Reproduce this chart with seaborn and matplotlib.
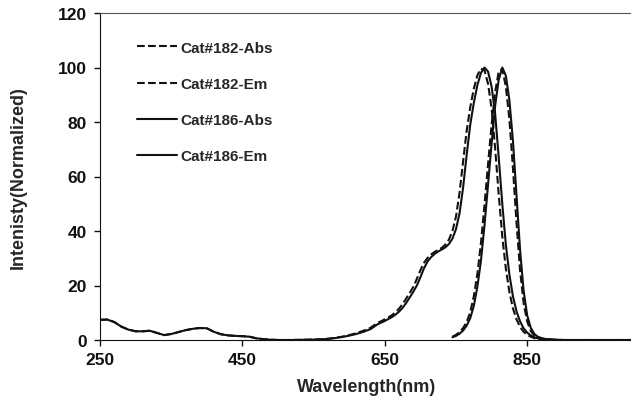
import pandas as pd
import matplotlib
matplotlib.use("Agg")
import matplotlib.pyplot as plt
import seaborn as sns

# absorption spectra (wavelength in nm, normalized intensity)
wl_abs = [250, 260, 270, 280, 290, 300, 310, 320, 330, 340, 350, 360, 370, 380, 390,
          400, 410, 420, 430, 440, 450, 460, 470, 480, 490, 500, 510, 520, 530, 540,
          550, 560, 570, 580, 590, 600, 610, 620, 630,
          640, 645, 650, 655, 660, 665, 670, 675, 680, 685, 690, 695, 700, 705, 710,
          715, 720, 725, 730, 735, 740, 745, 750, 755, 760, 765, 770, 775, 780, 785,
          790, 795, 800, 805, 810, 815, 820, 825, 830, 835, 840, 845, 850, 855, 860,
          865, 870, 875, 880, 885, 890, 900, 920, 950, 1000]
abs_186 = [7.4, 7.5, 6.6, 4.9, 3.8, 3.2, 3.2, 3.4, 2.6, 1.8, 2.2, 2.9, 3.6, 4.1, 4.4,
           4.3, 3.0, 2.1, 1.7, 1.5, 1.4, 1.2, 0.6, 0.3, 0.1, 0.0, 0.0, 0.0, 0.05, 0.1,
           0.15, 0.25, 0.4, 0.7, 1.1, 1.6, 2.2, 3.0, 4.0,
           5.8, 6.4, 7.0, 7.7, 8.4, 9.3, 10.4, 11.8, 13.6, 15.6, 17.7, 20.0, 23.0, 26.3, 28.8,
           30.4, 31.6, 32.5, 33.2, 34.0, 35.2, 37.2, 40.7, 46.5, 56.0, 68.0, 79.0, 87.0, 93.5, 98.0,
           100.0, 98.5, 93.0, 83.0, 67.0, 50.0, 35.0, 24.0, 16.0, 10.5, 6.8, 4.3, 2.7, 1.7, 1.0,
           0.6, 0.4, 0.2, 0.1, 0.0, 0.0, 0.0, 0.0, 0.0, 0.0]
abs_182 = [7.4, 7.5, 6.6, 4.9, 3.8, 3.2, 3.2, 3.4, 2.6, 1.8, 2.2, 2.9, 3.6, 4.1, 4.4,
           4.3, 3.0, 2.1, 1.7, 1.5, 1.4, 1.2, 0.6, 0.3, 0.1, 0.0, 0.0, 0.0, 0.05, 0.1,
           0.15, 0.25, 0.45, 0.8, 1.2, 1.8, 2.5, 3.4, 4.5,
           6.3, 6.9, 7.6, 8.3, 9.1, 10.2, 11.5, 13.2, 15.2, 17.3, 19.5, 22.4, 25.6, 28.3, 30.1,
           31.4, 32.3, 33.1, 33.8, 35.0, 36.8, 40.0, 45.3, 54.1, 65.6, 76.8, 85.4, 92.2, 97.1, 99.6,
           99.0, 94.0, 85.0, 70.2, 53.4, 38.0, 26.2, 17.6, 11.6, 7.6, 4.8, 3.0, 1.9, 1.2, 0.7,
           0.4, 0.2, 0.1, 0.05, 0.0, 0.0, 0.0, 0.0, 0.0, 0.0]

# emission spectra
wl_em = [745, 750, 755, 760, 765, 770, 775, 780, 785, 790, 795, 800, 805, 810, 815,
         820, 825, 830, 835, 840, 845, 850, 855, 860, 865, 870, 875, 880, 885, 890, 895, 900]
em_186 = [1.0, 1.5, 2.3, 3.5, 5.3, 8.0, 12.5, 19.5, 29.0, 42.0, 57.0, 72.0, 86.0, 95.5, 100.0,
          97.0, 88.0, 73.0, 53.0, 33.0, 18.0, 9.0, 4.5, 2.2, 1.2, 0.7, 0.4, 0.3, 0.2, 0.1, 0.05, 0.0]
em_182 = [1.2, 1.9, 2.9, 4.4, 6.6, 10.2, 16.0, 24.2, 35.5, 49.5, 64.5, 79.0, 91.0, 98.5, 99.5,
          93.0, 81.0, 63.0, 43.0, 25.5, 13.5, 6.8, 3.3, 1.7, 0.9, 0.5, 0.35, 0.25, 0.15, 0.08, 0.02, 0.0]

series = [
    ("Cat#182-Abs", wl_abs, abs_182, "--"),
    ("Cat#182-Em", wl_em, em_182, "--"),
    ("Cat#186-Abs", wl_abs, abs_186, "-"),
    ("Cat#186-Em", wl_em, em_186, "-"),
]

sns.set_style("ticks")
plt.rcParams['font.family'] = ['Liberation Sans', 'DejaVu Sans']
plt.rcParams['font.weight'] = 'bold'

fig = plt.figure(figsize=(6.31, 4.02), dpi=100)
ax = fig.add_axes([100 / 631, 1 - 341 / 402, 534 / 631, 327 / 402])

for name, x, y, ls in series:
    df = pd.DataFrame({'wavelength': x, 'intensity': y})
    line_kw = dict(dashes=(4.5, 2.5)) if ls == "--" else {}
    sns.lineplot(data=df, x='wavelength', y='intensity', ax=ax, color='#111111',
                 linewidth=1.5, linestyle=ls, label=name, **line_kw)

ax.set_xlim(250, 1000)
ax.set_ylim(0, 120)
ax.set_xticks([250, 450, 650, 850])
ax.set_yticks(range(0, 121, 20))
ax.tick_params(direction='out', length=4.5, width=1, labelsize=12.5, colors='#111111')
ax.tick_params(axis='y', pad=5)
ax.tick_params(axis='x', pad=4)
for lab in ax.get_xticklabels() + ax.get_yticklabels():
    lab.set_fontweight('bold')

ax.spines['right'].set_visible(False)
ax.spines['top'].set_color('#555555')
ax.spines['left'].set_color('#111111')
ax.spines['bottom'].set_color('#111111')

ax.set_xlabel('Wavelength(nm)', fontsize=13, fontweight='bold', labelpad=8)
ax.set_ylabel('Intenisty(Normalized)', fontsize=13, fontweight='bold', labelpad=22)

ax.legend(loc='upper left', bbox_to_anchor=(0.069, 0.915), frameon=False,
          fontsize=11, handlelength=2.6, handletextpad=0.25, labelspacing=1.45,
          borderpad=0, borderaxespad=0)

fig.savefig('out.png', dpi=100)
